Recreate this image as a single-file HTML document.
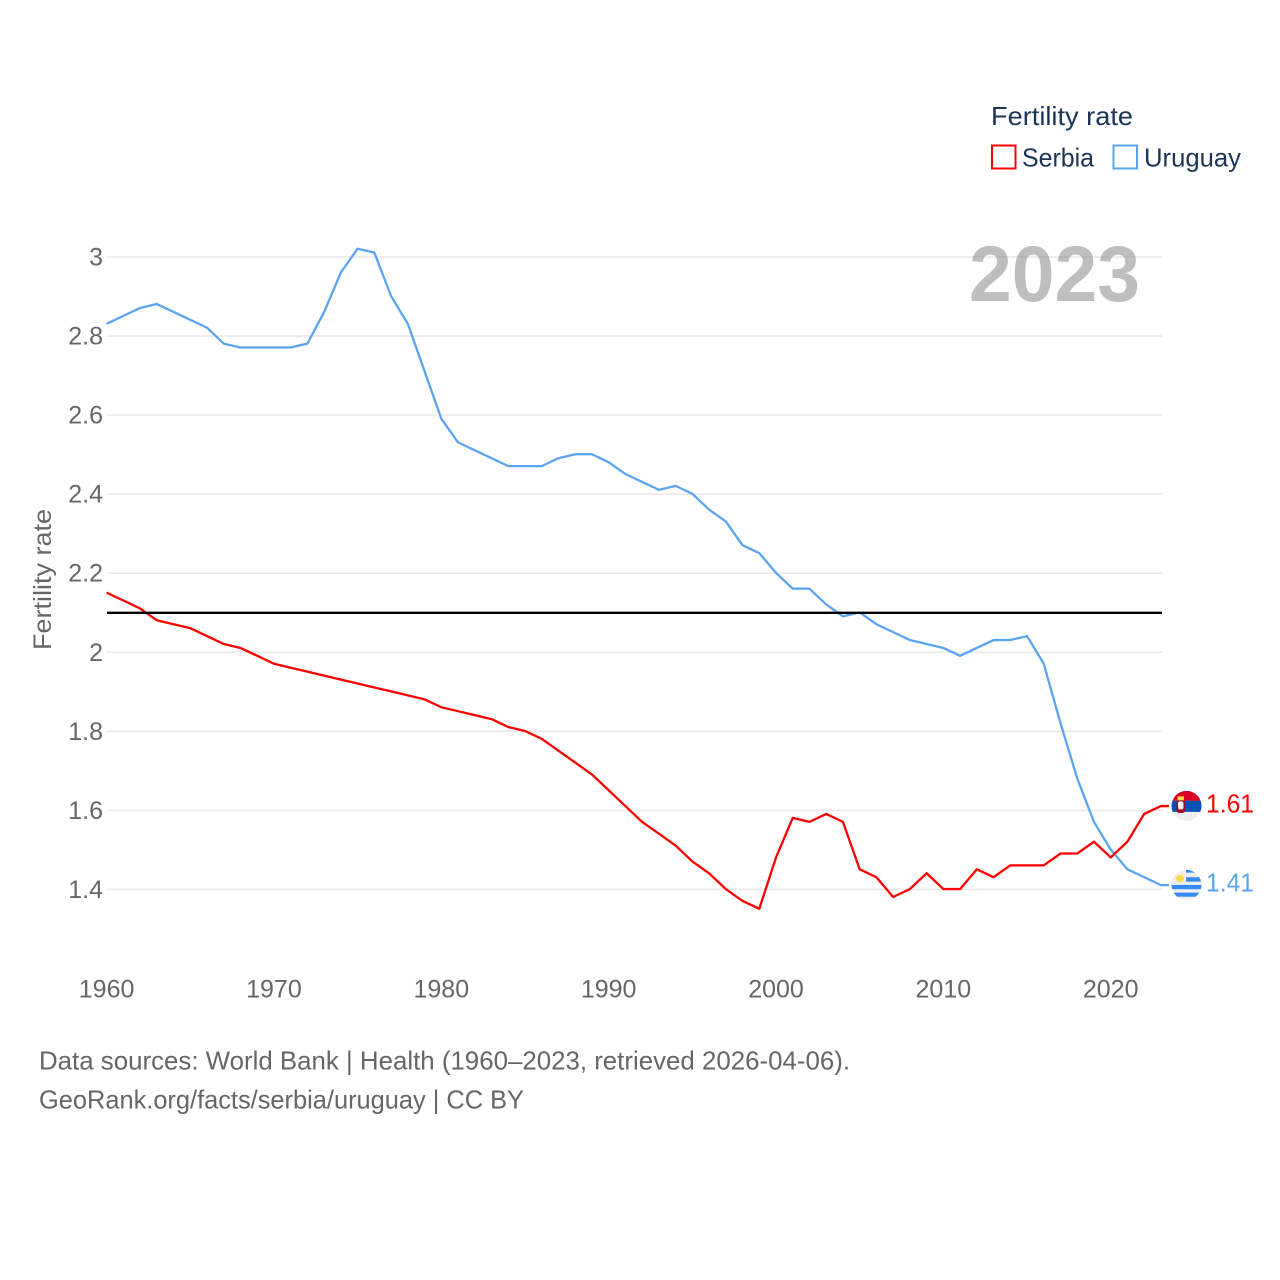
<!DOCTYPE html>
<html lang="en">
<head>
<meta charset="utf-8">
<title>Fertility rate: Serbia and Uruguay</title>
<style>
html,body{margin:0;padding:0;background:#fff;width:1280px;height:1280px;overflow:hidden}
svg{display:block}
text{font-family:"Liberation Sans",sans-serif}
</style>
</head>
<body>
<svg id="chart" xmlns="http://www.w3.org/2000/svg" width="1280" height="1280" viewBox="0 0 1280 1280">
  <g id="grid"></g>
  <g id="yticks"></g>
  <g id="xticks"></g>
  <text transform="translate(51,650) rotate(-90)" font-size="25" fill="#666" textLength="141" lengthAdjust="spacingAndGlyphs">Fertility rate</text>
  <text x="969" y="301" font-size="79" font-weight="bold" fill="#888888" fill-opacity="0.55" textLength="171" lengthAdjust="spacingAndGlyphs">2023</text>
  <g id="series"></g>
  <g id="flag-serbia">
    <defs><clipPath id="clip-rs"><circle cx="0" cy="0" r="15"></circle></clipPath><clipPath id="clip-uy"><circle cx="0" cy="0" r="15"></circle></clipPath></defs>
    <g clip-path="url(#clip-rs)">
      <rect x="-15" y="-15" width="30" height="30" fill="#eeeeee"></rect>
      <rect x="-15" y="-15" width="30" height="10" fill="#d80027"></rect>
      <rect x="-15" y="-5" width="30" height="11" fill="#0052b4"></rect>
      <rect x="-10" y="-6" width="8.500" height="13" rx="2.500" fill="#a2001d"></rect>
      <rect x="-9" y="-9.500" width="6.500" height="4" fill="#ffda44"></rect>
      <rect x="-8.500" y="-4.500" width="5.500" height="8" rx="2" fill="#eeeeee"></rect>
    </g>
  </g>
  <g id="flag-uruguay">
    <g clip-path="url(#clip-uy)">
      <rect x="-15" y="-15" width="30" height="30" fill="#eeeeee"></rect>
      <rect x="-0.500" y="-15.500" width="15.500" height="3.200" fill="#338af3"></rect>
      <rect x="-0.500" y="-7.700" width="15.500" height="4.400" fill="#338af3"></rect>
      <rect x="-15" y="0" width="30" height="4.300" fill="#338af3"></rect>
      <rect x="-15" y="7.700" width="30" height="4.100" fill="#338af3"></rect>
      <circle cx="-6.500" cy="-6.500" r="3.800" fill="#ffda44"></circle>
    </g>
  </g>
  <g id="end-labels"></g>
  <g>
    <text x="991" y="125" font-size="26" fill="#1b3556" textLength="142" lengthAdjust="spacingAndGlyphs">Fertility rate</text>
    <rect x="992" y="145.500" width="23.500" height="23" fill="none" stroke="#ff0000" stroke-width="2"></rect>
    <text x="1022" y="166.500" font-size="26" fill="#1b3556" textLength="72" lengthAdjust="spacingAndGlyphs">Serbia</text>
    <rect x="1113.500" y="145.500" width="23.500" height="23" fill="none" stroke="#5ba4f0" stroke-width="2"></rect>
    <text x="1144" y="166.500" font-size="26" fill="#1b3556" textLength="97" lengthAdjust="spacingAndGlyphs">Uruguay</text>
  </g>
  <text x="39" y="1069.500" font-size="26" fill="#666" textLength="811" lengthAdjust="spacingAndGlyphs">Data sources: World Bank | Health (1960–2023, retrieved 2026-04-06).</text>
  <text x="39" y="1108.500" font-size="26" fill="#666" textLength="485" lengthAdjust="spacingAndGlyphs">GeoRank.org/facts/serbia/uruguay | CC BY</text>
</svg>
<script>
const firstYear = 1960;
const serbiaValues = [2.15,2.13,2.11,2.08,2.07,2.06,2.04,2.02,2.01,1.99,1.97,1.96,1.95,1.94,1.93,1.92,1.91,1.90,1.89,1.88,1.86,1.85,1.84,1.83,1.81,1.80,1.78,1.75,1.72,1.69,1.65,1.61,1.57,1.54,1.51,1.47,1.44,1.40,1.37,1.35,1.48,1.58,1.57,1.59,1.57,1.45,1.43,1.38,1.40,1.44,1.40,1.40,1.45,1.43,1.46,1.46,1.46,1.49,1.49,1.52,1.48,1.52,1.59,1.61];
const uruguayValues = [2.83,2.85,2.87,2.88,2.86,2.84,2.82,2.78,2.77,2.77,2.77,2.77,2.78,2.86,2.96,3.02,3.01,2.90,2.83,2.71,2.59,2.53,2.51,2.49,2.47,2.47,2.47,2.49,2.50,2.50,2.48,2.45,2.43,2.41,2.42,2.40,2.36,2.33,2.27,2.25,2.20,2.16,2.16,2.12,2.09,2.10,2.07,2.05,2.03,2.02,2.01,1.99,2.01,2.03,2.03,2.04,1.97,1.82,1.68,1.57,1.50,1.45,1.43,1.41];
const yTicks = [1.4,1.6,1.8,2,2.2,2.4,2.6,2.8,3];
const yTickLabels = ["1.4","1.6","1.8","2","2.2","2.4","2.6","2.8","3"];
const xTicks = [1960,1970,1980,1990,2000,2010,2020];
const referenceLevel = [2.1];

const NS = "http://www.w3.org/2000/svg";
function xScale(year){ return 106.6 + (year - 1960) * 16.735; }
function yScale(v){ return 652.3 - (v - 2) * 395.3; }

function make(tag, attrs, parent, text){
  const el = document.createElementNS(NS, tag);
  for (const k in attrs) el.setAttribute(k, attrs[k]);
  if (text !== undefined) el.textContent = text;
  parent.appendChild(el);
  return el;
}

const gridGroup = document.getElementById("grid");
const yGroup = document.getElementById("yticks");
const xGroup = document.getElementById("xticks");
const seriesGroup = document.getElementById("series");
const endGroup = document.getElementById("end-labels");

yTicks.forEach(function(t, i){
  const line = make("line", {x1:107, x2:1162, y1:yScale(t), y2:yScale(t), stroke:"#e9e9e9", "stroke-width":1.6}, gridGroup);
  
  
  const label = make("text", {x:103, y:yScale(t)+8.5, "text-anchor":"end", "font-size":25, fill:"#666"}, yGroup, yTickLabels[i]);
  
  
});

xTicks.forEach(function(t){
  const label = make("text", {x:xScale(t), y:997.5, "text-anchor":"middle", "font-size":25, fill:"#666"}, xGroup, String(t));
  
  
});

function linePath(values){
  let d = values.map(function(v, i){
    return (i ? "L" : "M") + xScale(firstYear + i).toFixed(2) + " " + (yScale(v) - 0.4).toFixed(2);
  }).join(" ");
  d += " L" + (xScale(firstYear + values.length - 1) + 8).toFixed(2) + " " + (yScale(values[values.length - 1]) - 0.4).toFixed(2);
  return d;
}

const uruguayLine = make("path", {d:linePath(uruguayValues), fill:"none", stroke:"#5ba4f0", "stroke-width":2.3, "stroke-linejoin":"round"}, seriesGroup);


const serbiaLine = make("path", {d:linePath(serbiaValues), fill:"none", stroke:"#ff0000", "stroke-width":2.3, "stroke-linejoin":"round"}, seriesGroup);



const refLine = make("line", {x1:107, x2:1162, y1:yScale(referenceLevel[0]), y2:yScale(referenceLevel[0]), stroke:"#000", "stroke-width":2.4}, seriesGroup);



const serbiaLast = serbiaValues[serbiaValues.length - 1];
const uruguayLast = uruguayValues[uruguayValues.length - 1];
document.getElementById("flag-serbia").setAttribute("transform", "translate(1186.5," + (yScale(serbiaLast) - 0.6) + ")");
document.getElementById("flag-uruguay").setAttribute("transform", "translate(1186.5," + (yScale(uruguayLast) - 0.6) + ")");

const serbiaEnd = make("text", {x:1206, y:yScale(serbiaLast)+6, "font-size":26, fill:"#ff0000", textLength:48, lengthAdjust:"spacingAndGlyphs"}, endGroup, serbiaLast.toFixed(2));


const uruguayEnd = make("text", {x:1206, y:yScale(uruguayLast)+6, "font-size":26, fill:"#5ba4f0", textLength:48, lengthAdjust:"spacingAndGlyphs"}, endGroup, uruguayLast.toFixed(2));


</script>
</body>
</html>
